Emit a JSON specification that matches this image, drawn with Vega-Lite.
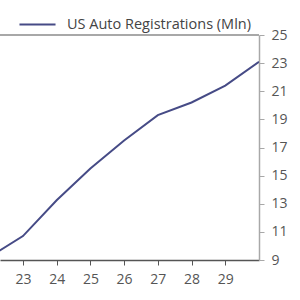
{
  "$schema": "https://vega.github.io/schema/vega-lite/v6.json",
  "autosize": "none",
  "width": 259,
  "height": 225,
  "padding": {"left": 0, "top": 35, "right": 41, "bottom": 40},
  "background": "white",
  "config": {"view": {"stroke": null}, "font": "Open Sans", "axis": {"labelOverlap": false}},
  "data": {"values": [
    {"year": 22, "value": 9.2, "series": "US Auto Registrations (Mln)"},
    {"year": 23, "value": 10.7, "series": "US Auto Registrations (Mln)"},
    {"year": 24, "value": 13.25, "series": "US Auto Registrations (Mln)"},
    {"year": 25, "value": 15.5, "series": "US Auto Registrations (Mln)"},
    {"year": 26, "value": 17.5, "series": "US Auto Registrations (Mln)"},
    {"year": 27, "value": 19.3, "series": "US Auto Registrations (Mln)"},
    {"year": 28, "value": 20.2, "series": "US Auto Registrations (Mln)"},
    {"year": 29, "value": 21.4, "series": "US Auto Registrations (Mln)"},
    {"year": 30, "value": 23.1, "series": "US Auto Registrations (Mln)"}
  ]},
  "layer": [
    {
      "mark": {"type": "rule", "color": "#a8a8a8", "strokeWidth": 1.5},
      "encoding": {"y": {"datum": 25, "type": "quantitative", "scale": {"domain": [9, 25], "nice": false, "zero": false},
              "axis": {"orient": "right", "title": null, "values": [9, 11, 13, 15, 17, 19, 21, 23, 25], "grid": false,
                       "domainColor": "#a8a8a8", "domainWidth": 1.5, "tickColor": "#a8a8a8", "tickSize": 5,
                       "labelFontSize": 14, "labelColor": "#555", "labelPadding": 7, "labelOverlap": false, "labelFlush": false}}}
    },
    {
      "mark": {"type": "line", "strokeWidth": 2, "clip": true},
      "encoding": {
        "x": {"field": "year", "type": "quantitative",
              "scale": {"domain": [22.32, 30], "nice": false, "zero": false},
              "axis": {"title": null, "values": [22, 23, 24, 25, 26, 27, 28, 29], "grid": false,
                       "domainColor": "#555", "domainWidth": 1.5, "tickColor": "#555", "tickSize": 5,
                       "labelFontSize": 14, "labelColor": "#555", "labelPadding": 7, "labelFlush": false, "labelOverlap": false}},
        "y": {"field": "value", "type": "quantitative",
              "scale": {"domain": [9, 25], "nice": false, "zero": false},
              "axis": {"orient": "right", "title": null, "values": [9, 11, 13, 15, 17, 19, 21, 23, 25], "grid": false,
                       "domainColor": "#a8a8a8", "domainWidth": 1.5, "tickColor": "#a8a8a8", "tickSize": 5,
                       "labelFontSize": 14, "labelColor": "#555", "labelPadding": 7, "labelOverlap": false, "labelFlush": false}},
        "color": {"field": "series", "type": "nominal",
                  "scale": {"range": ["#464b86"]},
                  "legend": {"title": null, "orient": "none", "legendX": 18, "legendY": -30,
                             "symbolType": "stroke", "symbolSize": 1300, "symbolStrokeWidth": 2,
                             "labelFontSize": 14.5, "labelColor": "#444", "labelOffset": 10, "labelLimit": 300}}
      }
    }
  ]
}
